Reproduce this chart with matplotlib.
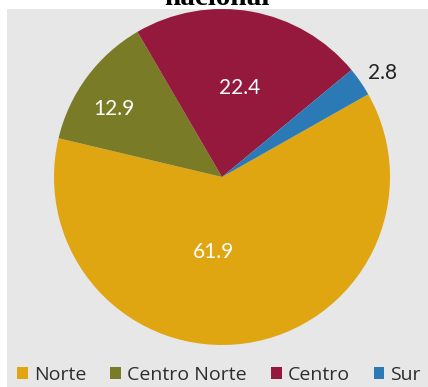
import numpy as np
import matplotlib
matplotlib.use("Agg")
import matplotlib.pyplot as plt
from matplotlib.patches import Rectangle

# Regional shares (percent)
regions = ["Norte", "Centro Norte", "Centro", "Sur"]
shares = [61.9, 12.9, 22.4, 2.8]
colors = ["#DFA612", "#7A7B26", "#95193C", "#2B79B5"]
label_colors = ["white", "white", "white", "#222222"]
# radial distance (in pie radii) and angle (degrees) for each value label
label_radius = [0.45, 0.76, 0.54, 1.14]
label_angle = [-96.8, 147.8, 78.6, 33.0]

W, H = 428, 387
fig = plt.figure(figsize=(W / 100, H / 100), dpi=100)
fig.patch.set_facecolor("white")

# gray chart area
fig.add_artist(Rectangle((7 / W, 0), 1 - 7 / W, (H - 9) / H,
                         transform=fig.transFigure, facecolor="#E7E7E7",
                         edgecolor="none", zorder=0))

cx, cy, r = 222, 177, 168
ax = fig.add_axes([(cx - r) / W, (H - cy - r) / H, 2 * r / W, 2 * r / H])
ax.set_facecolor("none")
wedges, _ = ax.pie(shares, colors=colors, startangle=29.5, counterclock=False,
                   wedgeprops=dict(linewidth=0))
ax.set_xlim(-1, 1)
ax.set_ylim(-1, 1)
ax.set_aspect("equal")
ax.axis("off")

for v, rr, ang, c in zip(shares, label_radius, label_angle, label_colors):
    a = np.deg2rad(ang)
    ax.text(rr * np.cos(a), rr * np.sin(a), f"{v:.1f}", ha="center", va="center",
            color=c, fontsize=15, family="Lato", clip_on=False)

fig.text(217 / W, 1 - 5 / H, "nacional", ha="center", va="baseline",
         fontsize=21, fontweight="bold", family="Liberation Serif")

handles = [Rectangle((0, 0), 1, 1, facecolor=c, edgecolor="none") for c in colors]
fig.legend(handles, regions, loc="center", bbox_to_anchor=(219 / W, 1 - 375 / H),
           ncol=4, frameon=False, prop=dict(family="Open Sans", size=14),
           handlelength=0.55, handleheight=0.55, handletextpad=0.3,
           columnspacing=1.25, borderaxespad=0, borderpad=0, labelcolor="#2E2E2E")

fig.savefig("out.png", dpi=100)
